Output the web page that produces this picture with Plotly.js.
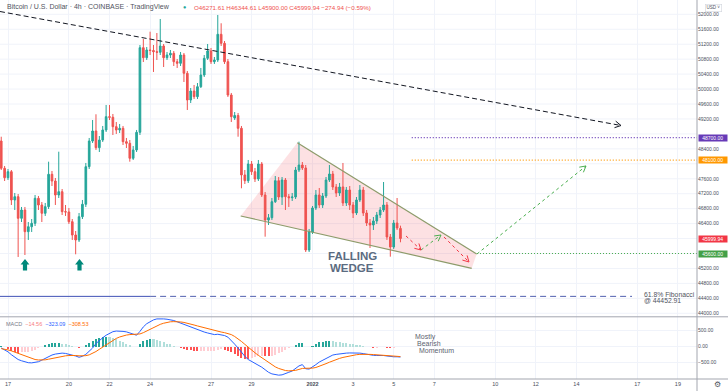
<!DOCTYPE html>
<html><head><meta charset="utf-8">
<script src="https://cdn.plot.ly/plotly-3.0.1.min.js"></script>
<style>html,body{margin:0;padding:0;background:#fff;}#chart{width:728px;height:391px;}</style>
</head><body><div id="chart"></div>
<script>
// ---------- DATA (BTC/USD 4h, Coinbase) ----------
const openP = [
48610,47880,47628,47789,47032,47120,46542,46764,46184,46317,
46408,47077,46898,46676,46853,47719,47540,47166,47254,46719,
46711,46451,46095,45962,46585,46917,47923,48610,48878,48431,
48637,48905,49261,49245,48993,48905,48950,48592,48549,48147,
48370,48843,51107,50839,51045,51032,51000,50984,51152,50839,
50911,50957,50732,50689,50911,50422,49707,49948,49796,50063,
50376,50823,51018,50732,50778,51465,51224,50732,49841,49226,
49293,48950,47701,47548,47995,47789,47594,47995,47166,46497,
46558,46986,47548,47112,47567,47120,47093,47112,47834,47968,
47888,45694,46176,46818,47166,46898,47139,47567,47727,47380,
47219,47380,46952,47299,46898,46684,47032,47299,46684,46416,
46363,46470,46630,46764,46898,46042,45774,46416,46271.61];
const highP = [
48725,47942,47861,47834,47219,47192,46845,46845,46443,46523,
47166,47139,46978,46952,48057,47808,47620,48324,47326,46898,
46818,46523,46202,46684,47032,48022,48691,49172,49325,48744,
49012,49574,49574,49333,49119,49065,49012,48691,48637,48477,
48905,51179,51339,51125,51535,51179,51500,51875,51206,50992,
51045,51018,50804,50992,50965,50483,50028,50109,50162,50564,
50911,51206,51099,50858,51982,51760,51286,50804,49895,49386,
49360,49012,47834,48102,48075,47888,48102,48048,47246,46657,
47085,47674,47647,47647,47620,47192,47219,47915,48592,48048,
47968,46256,46871,47299,47353,47219,47647,47968,47808,47460,
47487,48022,47380,47406,46978,47112,47433,47380,46764,46523,
46577,46711,46845,47513,46978,46122,46497,47085,46344.61];
const lowP = [
47834,47540,47567,46898,46764,45507,46443,45560,45962,46176,
46336,46764,46443,46604,46791,47406,46898,47085,46630,46604,
46390,45962,45579,45908,46523,46845,47861,48557,48370,48316,
48584,48851,49172,48771,48798,48824,48503,48423,48057,48102,
48316,48771,50724,50778,50911,50457,50778,50911,50590,50778,
50831,50617,50564,50617,50189,49440,49627,49734,49734,50028,
50323,50778,50671,50671,50724,51152,50671,49788,49119,49172,
48725,47345,47460,47487,47701,47513,47540,47112,46050,46363,
46497,46952,47032,46898,46764,46845,47005,47059,47781,47834,
45640,45640,46122,46764,46818,46818,47085,47513,47299,47112,
47139,46871,46871,46764,46550,46630,46978,46604,46336,45748,
46229,46390,46550,46711,45962,45515,45721,46229,45900];
const closeP = [
47880,47628,47789,47032,47120,46542,46764,46184,46317,46408,
47077,46898,46676,46853,47719,47540,47166,47254,46719,46711,
46451,46095,45962,46585,46917,47923,48610,48878,48431,48637,
48905,49261,49245,48993,48905,48950,48592,48549,48147,48370,
48843,51107,50839,51045,51032,51000,50984,51152,50839,50911,
50957,50732,50689,50911,50422,49707,49948,49796,50063,50376,
50823,51018,50732,50778,51465,51224,50732,49841,49261,49293,
48950,47701,47548,47995,47789,47594,47995,47166,46497,46558,
46986,47548,47112,47567,47120,47093,47112,47834,47968,47888,
45694,46176,46818,47166,46898,47139,47567,47727,47380,47219,
47380,46952,47299,46898,46684,47032,47299,46684,46416,46363,
46470,46630,46764,46898,46042,45774,46416,46283,45999.94];
const macdLine = [
-40,-90,-160,-250,-320,-400,-440,-480,-500,-505,
-490,-470,-420,-360,-310,-260,-230,-210,-200,-210,
-230,-260,-290,-330,-300,-240,-150,-40,100,200,
280,360,420,470,490,495,480,465,430,390,
360,480,620,720,790,840,870,880,870,860,
850,820,780,740,700,650,600,560,520,490,
460,430,400,380,390,380,350,300,200,80,
-40,-180,-300,-400,-460,-520,-570,-640,-720,-800,
-850,-880,-890,-880,-850,-800,-760,-690,-600,-560,
-690,-700,-640,-560,-480,-420,-360,-300,-260,-240,
-220,-210,-200,-195,-190,-195,-200,-215,-235,-260,
-270,-275,-270,-275,-290,-310,-315,-315,-323.09];
const signalLine = [
-60,-75,-100,-130,-170,-215,-260,-305,-345,-375,
-400,-415,-420,-410,-390,-365,-340,-320,-300,-285,
-275,-270,-275,-285,-290,-280,-255,-215,-150,-80,
-10,60,130,200,260,305,340,365,380,385,
380,400,440,495,555,610,660,700,735,760,
780,785,785,775,760,740,710,680,650,620,
590,560,530,500,480,460,440,420,380,320,
250,165,75,-20,-110,-190,-270,-345,-420,-495,
-565,-630,-680,-720,-745,-755,-755,-740,-710,-680,
-675,-680,-670,-650,-615,-575,-530,-485,-440,-400,
-365,-335,-310,-285,-265,-250,-240,-235,-235,-240,
-245,-250,-255,-260,-265,-275,-285,-295,-308.53];
const firstBar = '2021-12-16 16:00';
const barHours = 4;
const dateTicks = ['2021-12-17','2021-12-20','2021-12-22','2021-12-24','2021-12-27','2021-12-29','2022-01-01','2022-01-03','2022-01-05','2022-01-07','2022-01-10','2022-01-12','2022-01-14','2022-01-17','2022-01-19'];
const dateTickText = ['17','20','22','24','27','29','<b>2022</b>','3','5','7','10','12','14','17','19'];
// price-axis ticks that are not covered by the coloured price tags
const priceTicks = [44000,44400,44800,45200,46400,46800,47200,47600,48400,49200,49600,50000,50400,50800,51200,51600,52000];
const macdTicks = [-500,0,500];
const resistanceLevel = 48700, targetLevel = 48100, supportLevel = 45600, fibLevel = 44452.91, lastPrice = 45999.94;

// ---------- helpers ----------
function ms(s){const [d,t]=s.split(' ');const [Y,M,D]=d.split('-').map(Number);const [h,m]=(t||'00:00').split(':').map(Number);return Date.UTC(Y,M-1,D,h,m);}
function fmt(v){return new Date(v).toISOString().slice(0,16).replace('T',' ');}
const t0 = ms(firstBar);
const times = openP.map((_,i)=>fmt(t0 + i*barHours*3600e3));
const hist = macdLine.map((m,i)=>m - signalLine[i]);
const histColors = hist.map((h,i)=>{const p = i>0?hist[i-1]:h; if(h>=0) return h>=p?'#26a69a':'#b2dfdb'; return h<p?'#ff5252':'#ffcdd2';});

const PW=697, PH=379;
function P(xp,yp){return {xref:'paper',yref:'paper',x:xp/PW,y:(PH-yp)/PH};}
const FONT='Liberation Sans, Arial, sans-serif';

const traces = [
 {type:'candlestick',x:times,open:openP,high:highP,low:lowP,close:closeP,xaxis:'x',yaxis:'y',
  increasing:{line:{color:'#26a69a',width:1},fillcolor:'#26a69a'},
  decreasing:{line:{color:'#ef5350',width:1},fillcolor:'#ef5350'},
  whiskerwidth:0,hoverinfo:'skip',showlegend:false},
 {type:'bar',x:times,y:hist,xaxis:'x',yaxis:'y2',marker:{color:histColors,line:{width:0}},width:barHours*3600e3*0.6,hoverinfo:'skip',showlegend:false},
 {type:'scatter',mode:'lines',x:times,y:macdLine,xaxis:'x',yaxis:'y2',line:{color:'#2962ff',width:1},hoverinfo:'skip',showlegend:false},
 {type:'scatter',mode:'lines',x:times,y:signalLine,xaxis:'x',yaxis:'y2',line:{color:'#ff6d00',width:1},hoverinfo:'skip',showlegend:false}
];

const wedgePath = 'M'+ms('2021-12-28 11:07')+',46604 L'+ms('2021-12-31 06:02')+',48565 L'+ms('2022-01-09 02:08')+',45587 L'+ms('2022-01-08 20:13')+',45204 Z';
const arrowPath = 'M0,6 L4.4,0.6 L2.1,0.6 L2.1,-5.6 L-2.1,-5.6 L-2.1,0.6 L-4.4,0.6 Z';

// open chevron arrow head (screen direction dx,dy) anchored at the line end
function chevron(x,y,dx,dy,color){
  const L=Math.hypot(dx,dy), ux=dx/L, uy=dy/L, px=-uy, py=ux, len=6, w=3.3;
  const ax=-len*ux+w*px, ay=-len*uy+w*py, bx=-len*ux-w*px, by=-len*uy-w*py;
  return {type:'path',xref:'x',yref:'y',xsizemode:'pixel',ysizemode:'pixel',xanchor:x,yanchor:y,
    path:'M'+ax.toFixed(2)+','+(-ay).toFixed(2)+' L0,0 L'+bx.toFixed(2)+','+(-by).toFixed(2),
    line:{color:color,width:1},fillcolor:'rgba(0,0,0,0)'};
}

const shapes = [
 {type:'path',xref:'x',yref:'y',path:wedgePath,fillcolor:'rgba(242,54,69,0.15)',line:{width:0},layer:'between'},
 {type:'line',xref:'x',yref:'y',x0:'2021-12-28 11:07',y0:46604,x1:'2022-01-08 20:13',y1:45204,line:{color:'#8d9b6a',width:1.2}},
 {type:'line',xref:'x',yref:'y',x0:'2021-12-31 06:02',y0:48565,x1:'2022-01-09 02:08',y1:45587,line:{color:'#8d9b6a',width:1.2}},
 {type:'line',xref:'x',yref:'y',x0:'2021-12-16 14:32',y0:52075,x1:'2022-01-16 04:44',y1:49025,line:{color:'#131722',width:1,dash:'5px,3px'}},
 {type:'line',xref:'x',yref:'y',x0:'2022-01-05 21:20',y0:resistanceLevel,x1:'2022-01-21',y1:resistanceLevel,line:{color:'#673ab7',width:1.2,dash:'1px,2px'}},
 {type:'line',xref:'x',yref:'y',x0:'2022-01-05 21:20',y0:targetLevel,x1:'2022-01-21',y1:targetLevel,line:{color:'#ff9800',width:1.2,dash:'1px,2px'}},
 {type:'line',xref:'x',yref:'y',x0:'2022-01-09 02:28',y0:supportLevel,x1:'2022-01-21',y1:supportLevel,line:{color:'#4caf50',width:1.2,dash:'1px,2px'}},
 {type:'line',xref:'x',yref:'y',x0:'2021-12-16',y0:fibLevel,x1:'2021-12-24 00:00',y1:fibLevel,line:{color:'#3f51b5',width:1}},
 {type:'line',xref:'x',yref:'y',x0:'2021-12-24 00:00',y0:fibLevel,x1:'2022-01-16 17:45',y1:fibLevel,line:{color:'#5060b0',width:1,dash:'6px,4px'}},
 {type:'line',xref:'x',yref:'y',x0:'2022-01-05 14:33',y0:46069,x1:'2022-01-06 08:17',y1:45694,line:{color:'#f23645',width:1,dash:'3px,3px'}},
 {type:'line',xref:'x',yref:'y',x0:'2022-01-06 08:17',y0:45694,x1:'2022-01-07 07:55',y1:46095,line:{color:'#4caf50',width:1,dash:'3px,3px'}},
 {type:'line',xref:'x',yref:'y',x0:'2022-01-07 11:28',y0:46042,x1:'2022-01-08 17:01',y1:45373,line:{color:'#f23645',width:1,dash:'3px,3px'}},
 {type:'line',xref:'x',yref:'y',x0:'2022-01-09 02:28',y0:45587,x1:'2022-01-14 11:21',y1:47942,line:{color:'#4caf50',width:1,dash:'3px,3px'}},
 chevron('2022-01-16 04:44',49025,621,114,'#131722'),
 chevron('2022-01-06 08:17',45694,15,14,'#f23645'),
 chevron('2022-01-07 07:55',46095,20,-15,'#4caf50'),
 chevron('2022-01-08 17:01',45373,25,25,'#f23645'),
 chevron('2022-01-14 11:21',47942,109,-88,'#4caf50'),
 {type:'path',xref:'x',yref:'y',xsizemode:'pixel',ysizemode:'pixel',xanchor:'2021-12-17 20:06',yanchor:45293,path:arrowPath,fillcolor:'#00897b',line:{width:0}},
 {type:'path',xref:'x',yref:'y',xsizemode:'pixel',ysizemode:'pixel',xanchor:'2021-12-20 12:32',yanchor:45293,path:arrowPath,fillcolor:'#00897b',line:{width:0}},
 {type:'line',xref:'paper',yref:'paper',x0:0,x1:728/PW,y0:(PH-316.8)/PH,y1:(PH-316.8)/PH,line:{color:'#a3a6af',width:1}},
 {type:'line',xref:'paper',yref:'paper',x0:0,x1:728/PW,y0:0,y1:0,line:{color:'#a3a6af',width:1}},
 {type:'line',xref:'paper',yref:'paper',x0:1,x1:1,y0:(PH-391)/PH,y1:1,line:{color:'#a3a6af',width:1}}
];

function txt(xp,yp,text,size,color,extra){return Object.assign(P(xp,yp),{text:text,showarrow:false,xanchor:'left',yanchor:'middle',font:{family:FONT,size:size,color:color}},extra||{});}
function priceTag(price,text,bg){return {xref:'paper',yref:'y',x:(PW+1)/PW,y:price,xanchor:'left',yanchor:'middle',text:text,showarrow:false,bgcolor:bg,font:{family:FONT,size:5,color:'#ffffff'},width:27,height:5,borderpad:0.3};}

const annotations = [
 txt(5,7,'Bitcoin / U.S. Dollar · 4h · COINBASE · TradingView',7,'#50535e'),
 txt(181,7,'●',5.5,'#26a69a'),
 txt(192,7,'O46271.61 H46344.61 L45900.00 C45999.94 −274.94 (−0.59%)',6.2,'#ef5350'),
 txt(4,324,'<span style="color:#787b86">MACD</span>  <span style="color:#f77c80">−14.56</span>  <span style="color:#2962ff">−323.09</span>  <span style="color:#ff6d00">−308.53</span>',5.5,'#787b86'),
 txt(412.7,337.3,'Mostly',7,'#5d6370'),
 txt(415,343.9,'Bearish',7,'#5d6370'),
 txt(417,350.7,'Momentum',7,'#5d6370'),
 txt(641.7,294.3,'61.8% Fibonacci',6.8,'#50535e'),
 txt(641.7,300.6,'@ 44452.91',6.8,'#50535e'),
 {x:'2022-01-02 22:42',y:45534,xref:'x',yref:'y',text:'<b>FALLING</b>',showarrow:false,xanchor:'center',yanchor:'middle',font:{family:FONT,size:11.5,color:'#5b6b80'}},
 {x:'2022-01-02 22:42',y:45205,xref:'x',yref:'y',text:'<b>WEDGE</b>',showarrow:false,xanchor:'center',yanchor:'middle',font:{family:FONT,size:11.5,color:'#5b6b80'}},
 priceTag(resistanceLevel,'48700.00','#673ab7'),
 priceTag(targetLevel,'48100.00','#ff9800'),
 priceTag(lastPrice,'45999.94','#f23645'),
 priceTag(supportLevel,'45600.00','#43a047'),
 Object.assign(P(713,7.5),{text:'USD ˅',showarrow:false,xanchor:'center',yanchor:'middle',font:{family:FONT,size:4.6,color:'#50535e'},bordercolor:'#d1d4dc',borderwidth:0.6,borderpad:0.8}),
 Object.assign(P(717,384.5),{text:'⚙',showarrow:false,xanchor:'center',yanchor:'middle',font:{family:'DejaVu Sans',size:8,color:'#50535e'}})
];

const layout = {
 width:728,height:391,margin:{l:0,r:31,t:0,b:12},
 paper_bgcolor:'#ffffff',plot_bgcolor:'#ffffff',showlegend:false,bargap:0,
 font:{family:FONT,size:5.5,color:'#4a4e5a'},
 xaxis:{type:'date',range:['2021-12-16 14:32:30','2022-01-19 22:35'],anchor:'y2',tickvals:dateTicks,ticktext:dateTickText,
   tickfont:{size:5.5,color:'#4a4e5a'},showgrid:true,gridcolor:'#f0f3fa',gridwidth:1,ticks:'',showline:false,zeroline:false,
   rangeslider:{visible:false},fixedrange:true},
 yaxis:{domain:[(PH-316.7)/PH,1],range:[43909,52383],side:'right',anchor:'x',tickvals:priceTicks,tickformat:'.2f',
   tickfont:{size:5,color:'#4a4e5a'},showgrid:false,zeroline:false,ticks:'',showline:false,fixedrange:true},
 yaxis2:{domain:[0,(PH-317)/PH],range:[-1010,930],side:'right',anchor:'x',tickvals:macdTicks,tickformat:'.2f',
   tickfont:{size:5,color:'#4a4e5a'},gridcolor:'#f0f3fa',gridwidth:1,zeroline:false,ticks:'',showline:false,fixedrange:true},
 shapes:shapes,annotations:annotations
};
// horizontal price grid every 400 (including levels hidden behind the price tags)
for(let p=44000;p<=52000;p+=400){shapes.unshift({type:'line',xref:'paper',yref:'y',x0:0,x1:1,y0:p,y1:p,line:{color:'#f0f3fa',width:1},layer:'below'});}
Plotly.newPlot('chart',traces,layout,{displayModeBar:false,staticPlot:true});
</script></body></html>
